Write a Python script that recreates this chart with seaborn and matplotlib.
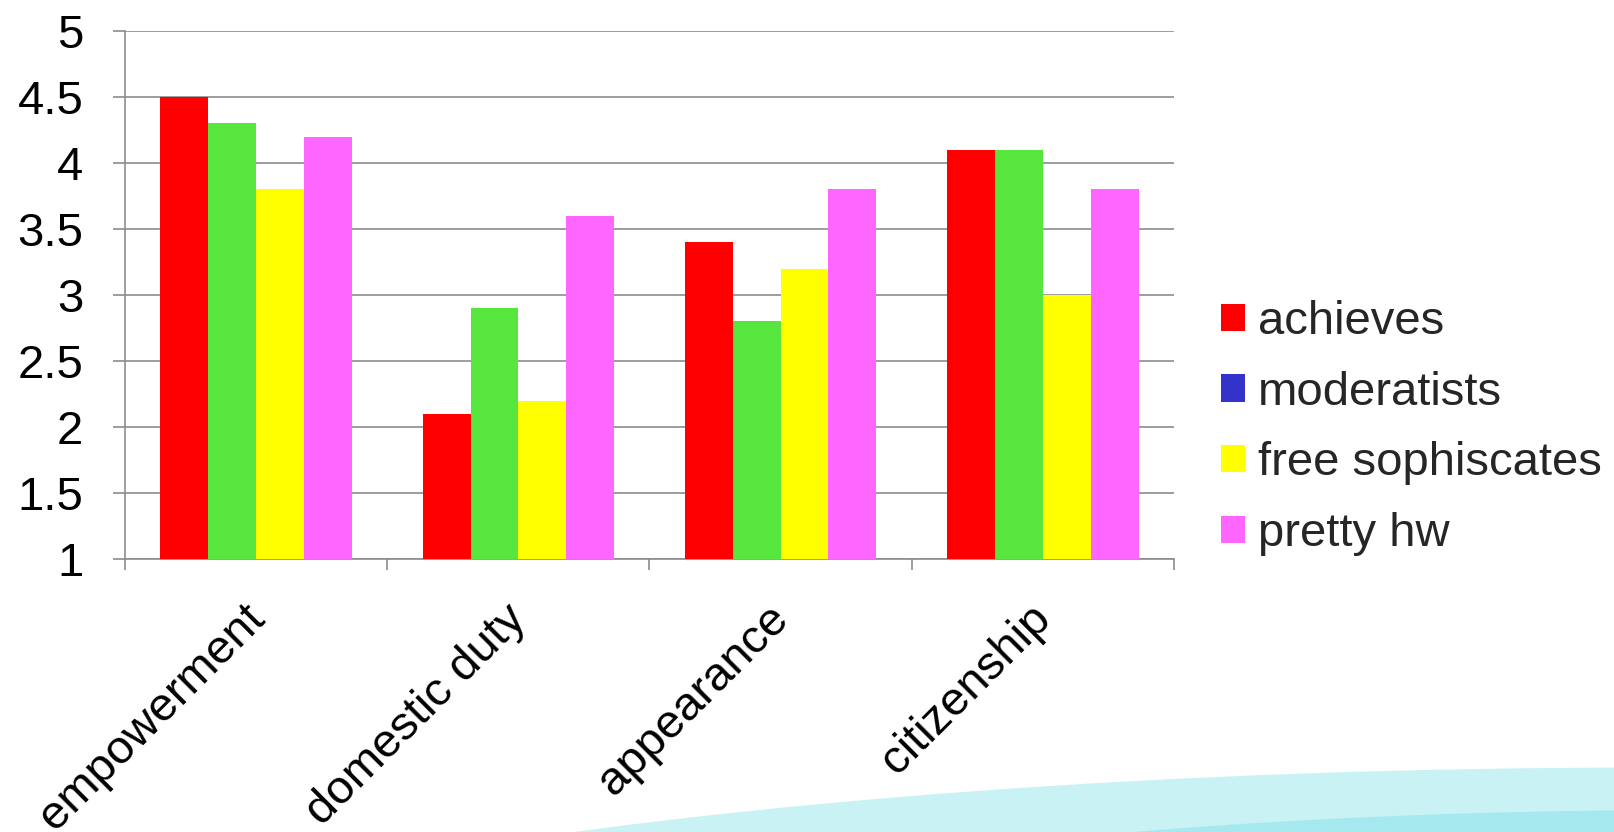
import matplotlib
matplotlib.use("Agg")
import matplotlib.pyplot as plt
import matplotlib.transforms as mtransforms
from matplotlib.patches import Patch, Ellipse
import seaborn as sns
import pandas as pd

categories = ["empowerment", "domestic duty", "appearance", "citizenship"]
series = ["achieves", "moderatists", "free sophiscates", "pretty hw"]
achieves = [4.5, 2.1, 3.4, 4.1]
moderatists = [4.3, 2.9, 2.8, 4.1]
free_sophiscates = [3.8, 2.2, 3.2, 3.0]
pretty_hw = [4.2, 3.6, 3.8, 3.8]
y_ticks = [1, 1.5, 2, 2.5, 3, 3.5, 4, 4.5, 5]

bar_colors = ["#FF0000", "#57E63E", "#FFFF00", "#FF66FF"]
legend_colors = ["#FF0000", "#3333CC", "#FFFF00", "#FF66FF"]

rows = []
for s, vals in zip(series, [achieves, moderatists, free_sophiscates, pretty_hw]):
    for c, v in zip(categories, vals):
        rows.append({"category": c, "series": s, "value": v})
df = pd.DataFrame(rows)

sns.set_theme(style="white")
plt.rcParams["font.family"] = ["Liberation Sans", "DejaVu Sans"]

fig = plt.figure(figsize=(16.15, 8.32), dpi=100)

# decorative light-blue wave at bottom right
fig.patches.append(Ellipse((1.02, -0.30), 2.19, 0.755, transform=fig.transFigure,
                           facecolor="#C8F2F4", edgecolor="none", zorder=0))
fig.patches.append(Ellipse((1.05, -0.18), 1.42, 0.413, transform=fig.transFigure,
                           facecolor="#A5E9EF", edgecolor="none", zorder=0))

ax = fig.add_axes([125 / 1615, 1 - 559 / 832, (1174 - 125) / 1615, (559 - 31) / 832])
ax.set_facecolor("none")

sns.barplot(data=df, x="category", y="value", hue="series", order=categories,
            hue_order=series, palette=bar_colors, width=0.73, gap=0,
            saturation=1, linewidth=0, ax=ax, legend=False, zorder=3)

ax.set_ylim(1, 5)
ax.set_xlim(-0.5, 3.5)
ax.set_yticks(y_ticks)
ax.set_yticklabels([f"{t:g}" for t in y_ticks])
ax.yaxis.grid(True, color="#8C8C8C", linewidth=1.2, zorder=0)
ax.set_axisbelow(True)
ax.set_xlabel("")
ax.set_ylabel("")

for side in ["top", "right"]:
    ax.spines[side].set_visible(False)
for side in ["left", "bottom"]:
    ax.spines[side].set_color("#8C8C8C")
    ax.spines[side].set_linewidth(1.2)

ax.tick_params(axis="y", which="major", length=9, width=1.2, color="#8C8C8C",
               direction="out", pad=21, labelsize=34, labelcolor="black", left=True)
ax.set_xticks(range(len(categories)))
ax.set_xticks([-0.5, 0.5, 1.5, 2.5, 3.5], minor=True)
ax.tick_params(axis="x", which="major", length=0, pad=27, labelsize=34, labelcolor="black")
ax.tick_params(axis="x", which="minor", length=8, width=1.2, color="#8C8C8C",
               direction="out", bottom=True)

offset = mtransforms.ScaledTranslation(-0.14, 0, fig.dpi_scale_trans)
for lab in ax.get_xticklabels():
    lab.set_rotation(45)
    lab.set_rotation_mode("anchor")
    lab.set_ha("right")
    lab.set_va("top")
    lab.set_transform(lab.get_transform() + offset)

handles = [Patch(facecolor=c, edgecolor="none") for c in legend_colors]
fig.legend(handles, series, loc="upper left", bbox_to_anchor=(1221 / 1615, 1 - 300 / 832),
           frameon=False, fontsize=34, handlelength=0.51, handleheight=0.51,
           handletextpad=0.28, labelspacing=0.565, borderaxespad=0, borderpad=0)

fig.savefig("out.png", dpi=100)
